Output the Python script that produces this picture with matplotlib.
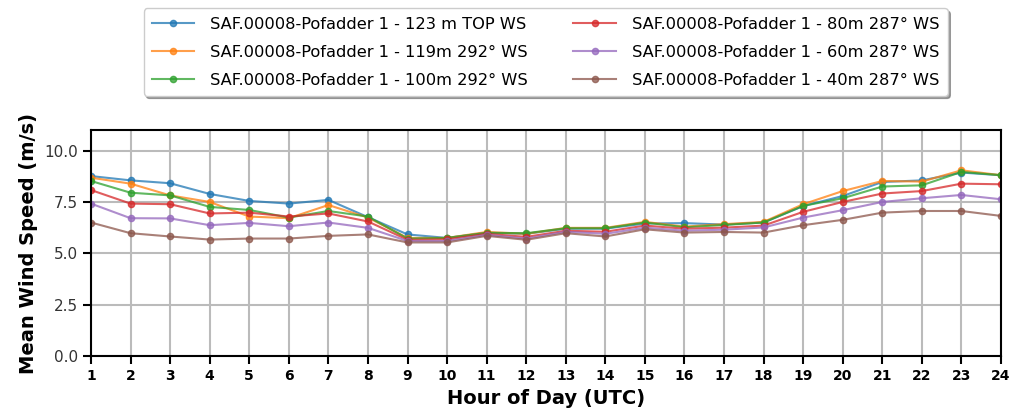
import matplotlib
matplotlib.use("Agg")
import matplotlib.pyplot as plt
from matplotlib.ticker import FormatStrFormatter

hours = list(range(1, 25))
labels = [
    "SAF.00008-Pofadder 1 - 123 m TOP WS",
    "SAF.00008-Pofadder 1 - 119m 292° WS",
    "SAF.00008-Pofadder 1 - 100m 292° WS",
    "SAF.00008-Pofadder 1 - 80m 287° WS",
    "SAF.00008-Pofadder 1 - 60m 287° WS",
    "SAF.00008-Pofadder 1 - 40m 287° WS",
]
ws_123 = [8.76, 8.55, 8.41, 7.89, 7.55, 7.42, 7.60, 6.76, 5.92, 5.75, 6.00, 5.95,
          6.20, 6.20, 6.45, 6.47, 6.40, 6.50, 7.30, 7.79, 8.47, 8.55, 8.93, 8.80]
ws_119 = [8.68, 8.39, 7.82, 7.50, 6.79, 6.71, 7.35, 6.74, 5.75, 5.75, 6.04, 5.95,
          6.24, 6.24, 6.53, 6.30, 6.42, 6.53, 7.39, 8.03, 8.52, 8.49, 9.04, 8.80]
ws_100 = [8.52, 7.95, 7.82, 7.26, 7.11, 6.74, 7.06, 6.79, 5.72, 5.75, 6.00, 5.98,
          6.22, 6.22, 6.50, 6.27, 6.38, 6.50, 7.31, 7.68, 8.25, 8.31, 8.96, 8.80]
ws_80 = [8.08, 7.42, 7.39, 6.94, 6.98, 6.79, 6.94, 6.55, 5.66, 5.68, 5.95, 5.80,
         6.10, 6.05, 6.35, 6.20, 6.25, 6.35, 7.02, 7.50, 7.91, 8.03, 8.39, 8.36]
ws_60 = [7.42, 6.71, 6.70, 6.37, 6.48, 6.32, 6.50, 6.24, 5.60, 5.60, 5.90, 5.72,
         6.05, 5.95, 6.25, 6.10, 6.15, 6.26, 6.74, 7.10, 7.50, 7.68, 7.84, 7.63]
ws_40 = [6.50, 5.98, 5.82, 5.67, 5.72, 5.72, 5.85, 5.92, 5.53, 5.53, 5.85, 5.66,
         5.98, 5.82, 6.17, 6.01, 6.04, 6.01, 6.37, 6.63, 6.98, 7.06, 7.06, 6.82]
series = [ws_123, ws_119, ws_100, ws_80, ws_60, ws_40]
colors = ["#1f77b4", "#ff7f0e", "#2ca02c", "#d62728", "#9467bd", "#8c564b"]

fig = plt.figure(figsize=(10.14, 4.18), dpi=100)
ax = fig.add_axes([0.0897, 0.148, 0.8975, 0.541])

for vals, lab, c in zip(series, labels, colors):
    ax.plot(hours, vals, marker="o", markersize=4.5, linewidth=1.5,
            color=c, alpha=0.75, label=lab)

ax.set_xlim(1, 24)
ax.set_ylim(0, 11)
ax.set_xticks(hours)
ax.set_yticks([0, 2.5, 5.0, 7.5, 10.0])
ax.yaxis.set_major_formatter(FormatStrFormatter("%.1f"))
ax.grid(True, color="#bbbbbb", linewidth=1.5)
ax.set_axisbelow(True)
for sp in ax.spines.values():
    sp.set_linewidth(1.5)
    sp.set_color("black")
ax.tick_params(axis="both", length=6, width=1.5)
for t in ax.get_xticklabels():
    t.set_fontweight("bold")
    t.set_fontsize(10)
for t in ax.get_yticklabels():
    t.set_fontsize(11)
    t.set_color("#333333")
ax.set_xlabel("Hour of Day (UTC)", fontsize=14, fontweight="bold")
ax.set_ylabel("Mean Wind Speed (m/s)", fontsize=14, fontweight="bold")

leg = ax.legend(loc="lower center", bbox_to_anchor=(0.4995, 1.116), ncol=2,
                fontsize=11.7, shadow=True, handlelength=2.6, handletextpad=1.0,
                columnspacing=2.8, labelspacing=0.8, borderpad=0.5,
                framealpha=1)

fig.savefig("out.png", dpi=100)
